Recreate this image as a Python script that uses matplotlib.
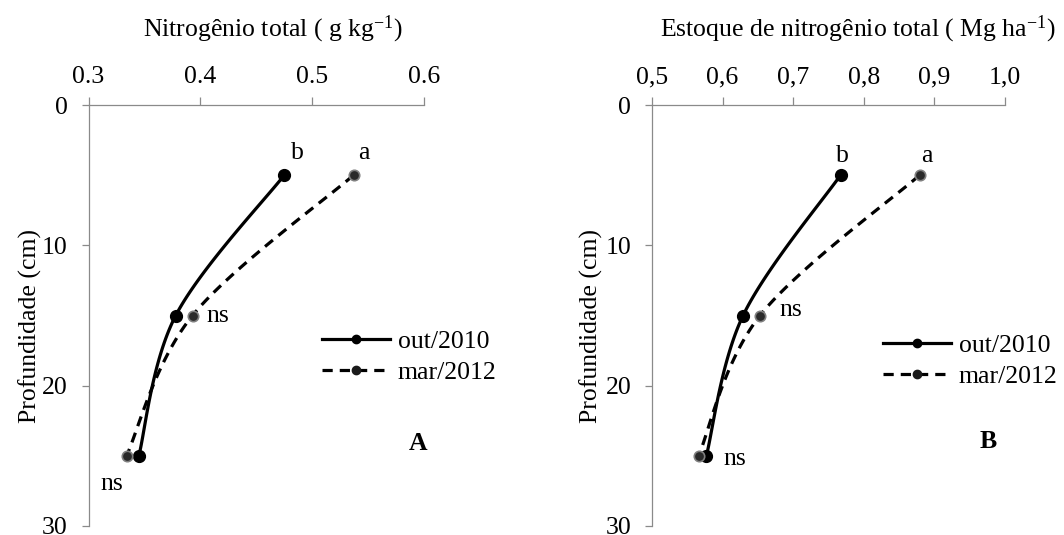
import numpy as np
import matplotlib
matplotlib.use("Agg")
import matplotlib.pyplot as plt
from matplotlib.lines import Line2D

plt.rcParams['font.family'] = ['Liberation Serif', 'DejaVu Serif']
plt.rcParams['mathtext.fontset'] = 'custom'
plt.rcParams['mathtext.rm'] = 'Liberation Serif'
plt.rcParams['mathtext.default'] = 'regular'

# ---- data ----
depth = [5, 15, 25]
seriesA_out2010 = [0.475, 0.378, 0.345]
seriesA_mar2012 = [0.537, 0.393, 0.334]
seriesB_out2010 = [0.767, 0.629, 0.577]
seriesB_mar2012 = [0.879, 0.653, 0.566]
series_names = ["out/2010", "mar/2012"]
xticksA = [0.3, 0.4, 0.5, 0.6]
xticklabelsA = ["0.3", "0.4", "0.5", "0.6"]
xticksB = [0.5, 0.6, 0.7, 0.8, 0.9, 1.0]
xticklabelsB = ["0,5", "0,6", "0,7", "0,8", "0,9", "1,0"]
yticks = [0, 10, 20, 30]
yticklabels = ["0", "10", "20", "30"]


def smooth(xs, ys, n=40):
    """Excel-like smoothed line (Bezier with Catmull-Rom control points)."""
    P = np.column_stack([xs, ys]).astype(float)
    out = []
    m = len(P)
    for i in range(m - 1):
        p0 = P[i - 1] if i > 0 else P[i]
        p1 = P[i]
        p2 = P[i + 1]
        p3 = P[i + 2] if i + 2 < m else P[i + 1]
        c1 = p1 + (p2 - p0) / 6.0
        c2 = p2 - (p3 - p1) / 6.0
        t = np.linspace(0, 1, n)[:, None]
        seg = ((1 - t) ** 3) * p1 + 3 * ((1 - t) ** 2) * t * c1 + 3 * (1 - t) * t ** 2 * c2 + t ** 3 * p2
        out.append(seg if i == 0 else seg[1:])
    s = np.vstack(out)
    return s[:, 0], s[:, 1]


W, H = 1064, 535
fig = plt.figure(figsize=(W / 100, H / 100), dpi=100)

spine_col = '#8a8a8a'
FS = 18.5


def make_panel(rect, xlim, xt, xtl, s_out, s_mar, texts, letter, title, title_x, leg_xy):
    ax = fig.add_axes(rect)
    ax.set_xlim(*xlim)
    ax.set_ylim(30, 0)
    ax.xaxis.tick_top()
    ax.set_xticks(xt)
    ax.set_xticklabels(xtl)
    ax.set_yticks(yticks)
    ax.set_yticklabels(yticklabels)
    for sp in ['right', 'bottom']:
        ax.spines[sp].set_visible(False)
    for sp in ['left', 'top']:
        ax.spines[sp].set_color(spine_col)
        ax.spines[sp].set_linewidth(0.9)
    ax.tick_params(axis='x', direction='out', length=6, width=0.9, color=spine_col,
                   labelsize=FS, pad=6)
    ax.tick_params(axis='y', direction='out', length=5, width=0.9, color=spine_col,
                   labelsize=FS, pad=10)
    ax.set_ylabel("Profundidade (cm)", fontsize=FS)
    ax.yaxis.set_label_coords(-0.14, 0.475)
    ax.patch.set_alpha(0)

    xs, ys = smooth(s_out, depth)
    ax.plot(xs, ys, color='black', lw=2.3, solid_capstyle='round', zorder=3)
    ax.plot(s_out, depth, 'o', ms=8.5, color='black', zorder=4)
    xs, ys = smooth(s_mar, depth)
    ax.plot(xs, ys, color='black', lw=2.3, ls=(0, (3.2, 2.2)), zorder=3)
    ax.plot(s_mar, depth, 'o', ms=7.5, mfc='#2a2a2a', mec='#808080', mew=1.2, zorder=4)

    for (tx, ty, s) in texts:
        ax.text(tx, ty, s, fontsize=FS, ha='center', va='center')
    ax.text(letter[0], letter[1], letter[2], fontsize=FS, fontweight='bold',
            ha='center', va='center')

    fig.text(title_x, 1 - 29 / H, title, fontsize=FS, ha='center', va='center')

    handles = [
        Line2D([], [], color='black', lw=2.3, marker='o', ms=6, mfc='black', mec='black'),
        Line2D([], [], color='black', lw=2.3, ls=(0, (3.2, 2.2)), marker='o', ms=6,
               mfc='#1a1a1a', mec='#1a1a1a'),
    ]
    ax.legend(handles, series_names, loc='center left',
              bbox_to_anchor=leg_xy, bbox_transform=fig.transFigure,
              frameon=False, fontsize=FS, handlelength=2.65, handletextpad=0.3,
              labelspacing=0.3, borderpad=0, borderaxespad=0)
    return ax


axA = make_panel(
    [88.5 / W, 1 - 526 / H, (424 - 88.5) / W, (526 - 105) / H],
    (0.3, 0.6), xticksA, xticklabelsA, seriesA_out2010, seriesA_mar2012,
    [(0.487, 3.4, "b"), (0.546, 3.4, "a"), (0.416, 15.0, "ns"), (0.321, 27.0, "ns")],
    (0.595, 24.1, "A"),
    "Nitrogênio total ( g kg$^{-1}$)", 273 / W,
    (322 / W, 1 - 357 / H))

axB = make_panel(
    [652 / W, 1 - 526 / H, (1005 - 652) / W, (526 - 105) / H],
    (0.5, 1.0), xticksB, xticklabelsB, seriesB_out2010, seriesB_mar2012,
    [(0.769, 3.6, "b"), (0.89, 3.6, "a"), (0.696, 14.6, "ns"), (0.617, 25.2, "ns")],
    (0.976, 24.0, "B"),
    "Estoque de nitrogênio total ( Mg ha$^{-1}$)", 858 / W,
    (883 / W, 1 - 361 / H))

fig.savefig("out.png", dpi=100)
